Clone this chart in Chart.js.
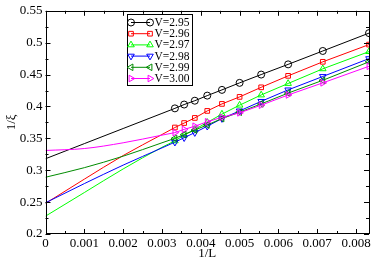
<!DOCTYPE html>
<html><head><meta charset="utf-8">
<script src="https://cdn.jsdelivr.net/npm/chart.js@4/dist/chart.umd.min.js"></script>
<style>html,body{margin:0;padding:0;background:#fff}canvas{display:block}</style>
</head><body>
<canvas id="c" width="374" height="262"></canvas>
<script>
// ---- data ----
const L = [300, 280, 260, 240, 220, 200, 180, 160, 140, 120];
const seriesNames = ['V=2.95', 'V=2.96', 'V=2.97', 'V=2.98', 'V=2.99', 'V=3.00'];
const v295 = [0.397, 0.403, 0.409, 0.417, 0.426, 0.437, 0.450, 0.466, 0.487, 0.515];
const v296 = [0.367, 0.374, 0.382, 0.393, 0.404, 0.415, 0.430, 0.448, 0.470, 0.497];
const v297 = [0.346, 0.355, 0.364, 0.375, 0.388, 0.402, 0.418, 0.436, 0.459, 0.486];
const v298 = [0.344, 0.351, 0.359, 0.369, 0.381, 0.393, 0.408, 0.426, 0.447, 0.475];
const v299 = [0.350, 0.356, 0.363, 0.371, 0.381, 0.391, 0.404, 0.421, 0.441, 0.470];
const v300 = [0.359, 0.364, 0.369, 0.376, 0.383, 0.390, 0.402, 0.418, 0.437, 0.463];
// extrapolation (fit) curves
const fitX   = [0, 0.001, 0.002, 0.003, 0.003333];
const fit295 = [0.318, 0.3417, 0.3654, 0.3891, 0.397];
const fit296 = [0.248, 0.286, 0.323, 0.356, 0.367];
const fit297 = [0.228, 0.265, 0.302, 0.336, 0.346];
const fit298 = [0.249, 0.279, 0.308, 0.335, 0.344];
const fit299 = [0.289, 0.304, 0.322, 0.343, 0.350];
const fit300 = [0.331, 0.334, 0.343, 0.355, 0.359];
const xTicks = [0, 0.001, 0.002, 0.003, 0.004, 0.005, 0.006, 0.007, 0.008];
const xTickLabels = ['0', '0.001', '0.002', '0.003', '0.004', '0.005', '0.006', '0.007', '0.008'];
const yTicks = [0.2, 0.25, 0.3, 0.35, 0.4, 0.45, 0.5, 0.55];
const yTickLabels = ['0.2', '0.25', '0.3', '0.35', '0.4', '0.45', '0.5', '0.55'];
const xMax = 1 / 120;

// ---- styles ----
const colors = ['#000000', '#ff0000', '#00ff00', '#0000ff', '#008b00', '#ff00ff'];
const pStyles = ['circle', 'rect', 'triangle', 'triangle', 'triangle', 'triangle'];
const pRot = [0, 0, 0, 180, 270, 90];
const pRad = [3.5, 3.3, 3.8, 3.8, 3.8, 3.8];
const values = [v295, v296, v297, v298, v299, v300];
const fits = [fit295, fit296, fit297, fit298, fit299, fit300];

const datasets = [];
values.forEach((vals, i) => {
  datasets.push({
    label: seriesNames[i],
    data: vals.map((v, k) => ({x: 1 / L[k], y: v})),
    showLine: true,
    borderColor: colors[i], backgroundColor: 'rgba(0,0,0,0)',
    borderWidth: 1,
    pointStyle: pStyles[i], pointRotation: pRot[i], pointRadius: pRad[i],
    pointBorderColor: colors[i], pointBackgroundColor: 'rgba(0,0,0,0)', pointBorderWidth: 1,
    order: 6 - i
  });
});
fits.forEach((vals, i) => {
  datasets.push({
    label: 'fit ' + seriesNames[i],
    data: vals.map((v, k) => ({x: fitX[k], y: v})),
    showLine: true, cubicInterpolationMode: 'monotone',
    borderColor: colors[i], borderWidth: 1, pointRadius: 0,
    order: 20 - i
  });
});

const framePlugin = {
  id: 'frame',
  afterDatasetsDraw(chart) {
    const {ctx, chartArea: a, scales: {x, y}} = chart;
    ctx.save();
    ctx.strokeStyle = '#000'; ctx.lineWidth = 1;
    ctx.strokeRect(Math.round(a.left) + 0.5, Math.round(a.top) + 0.5,
      Math.round(a.right - a.left) - 1, Math.round(a.bottom - a.top) - 1);
    ctx.beginPath();
    const tick = (px, len, horiz) => {};
    // x ticks (major + minor), bottom and top, inward
    for (let k = 0; k < xTicks.length; k++) {
      const v = xTicks[k];
      const px = Math.round(x.getPixelForValue(v)) + 0.5;
      ctx.moveTo(px, a.bottom); ctx.lineTo(px, a.bottom - 5);
      ctx.moveTo(px, a.top); ctx.lineTo(px, a.top + 5);
      const m = v + 0.0005;
      if (m < xMax) {
        const pm = Math.round(x.getPixelForValue(m)) + 0.5;
        ctx.moveTo(pm, a.bottom); ctx.lineTo(pm, a.bottom - 3);
        ctx.moveTo(pm, a.top); ctx.lineTo(pm, a.top + 3);
      }
    }
    for (let k = 0; k < yTicks.length; k++) {
      const v = yTicks[k];
      const py = Math.round(y.getPixelForValue(v)) + 0.5;
      ctx.moveTo(a.left, py); ctx.lineTo(a.left + 5, py);
      ctx.moveTo(a.right, py); ctx.lineTo(a.right - 5, py);
      const m = v + 0.025;
      if (m < 0.55) {
        const pm = Math.round(y.getPixelForValue(m)) + 0.5;
        ctx.moveTo(a.left, pm); ctx.lineTo(a.left + 3, pm);
        ctx.moveTo(a.right, pm); ctx.lineTo(a.right - 3, pm);
      }
    }
    ctx.stroke();

    // legend box
    const bx = 127.5, by = 14.5, bw = 65, bh = 71;
    ctx.fillStyle = '#fff';
    ctx.fillRect(bx, by, bw, bh);
    ctx.strokeRect(bx, by, bw, bh);
    ctx.font = '11.5px "Liberation Serif", serif';
    ctx.textBaseline = 'middle';
    for (let i = 0; i < seriesNames.length; i++) {
      const ry = 22.5 + i * 11.2;
      ctx.strokeStyle = colors[i]; ctx.lineWidth = 1;
      ctx.beginPath(); ctx.moveTo(131, ry); ctx.lineTo(150, ry); ctx.stroke();
      const opt = {pointStyle: pStyles[i], radius: pRad[i], rotation: pRot[i], borderWidth: 1};
      ctx.fillStyle = 'rgba(0,0,0,0)';
      Chart.helpers.drawPoint(ctx, opt, 131, ry);
      Chart.helpers.drawPoint(ctx, opt, 150, ry);
      ctx.fillStyle = '#000';
      ctx.fillText(seriesNames[i], 154.5, ry + 0.5);
    }
    ctx.restore();
  }
};

const tickFont = {family: '"Liberation Serif", serif', size: 13};
new Chart(document.getElementById('c'), {
  type: 'scatter',
  data: {datasets},
  options: {
    responsive: false, animation: false, devicePixelRatio: 1,
    layout: {padding: {left: 0, right: 3, top: 5, bottom: 0}},
    plugins: {legend: {display: false}, tooltip: {enabled: false}},
    scales: {
      x: {
        type: 'linear', min: 0, max: xMax,
        afterBuildTicks: s => { s.ticks = xTicks.map(v => ({value: v})); },
        afterFit: s => { s.height = 28; },
        grid: {display: false, drawTicks: false},
        border: {display: false},
        ticks: {
          font: tickFont, color: '#000', padding: 2, maxRotation: 0, autoSkip: false,
          callback: (v, idx) => xTickLabels[idx]
        },
        title: {display: true, text: '1/L', font: {family: '"Liberation Serif", serif', size: 13}, color: '#000', padding: {top: 0, bottom: 1}}
      },
      y: {
        type: 'linear', min: 0.2, max: 0.55,
        afterBuildTicks: s => { s.ticks = yTicks.map(v => ({value: v})); },
        afterFit: s => { s.width = 45.5; },
        grid: {display: false, drawTicks: false},
        border: {display: false},
        ticks: {
          font: tickFont, color: '#000', padding: 3, autoSkip: false,
          callback: (v, idx) => yTickLabels[idx]
        },
        title: {display: true, text: '1/ξ', font: {family: '"Liberation Serif", serif', size: 13}, color: '#000', padding: {top: 4, bottom: 0}}
      }
    }
  },
  plugins: [framePlugin]
});
</script>
</body></html>
